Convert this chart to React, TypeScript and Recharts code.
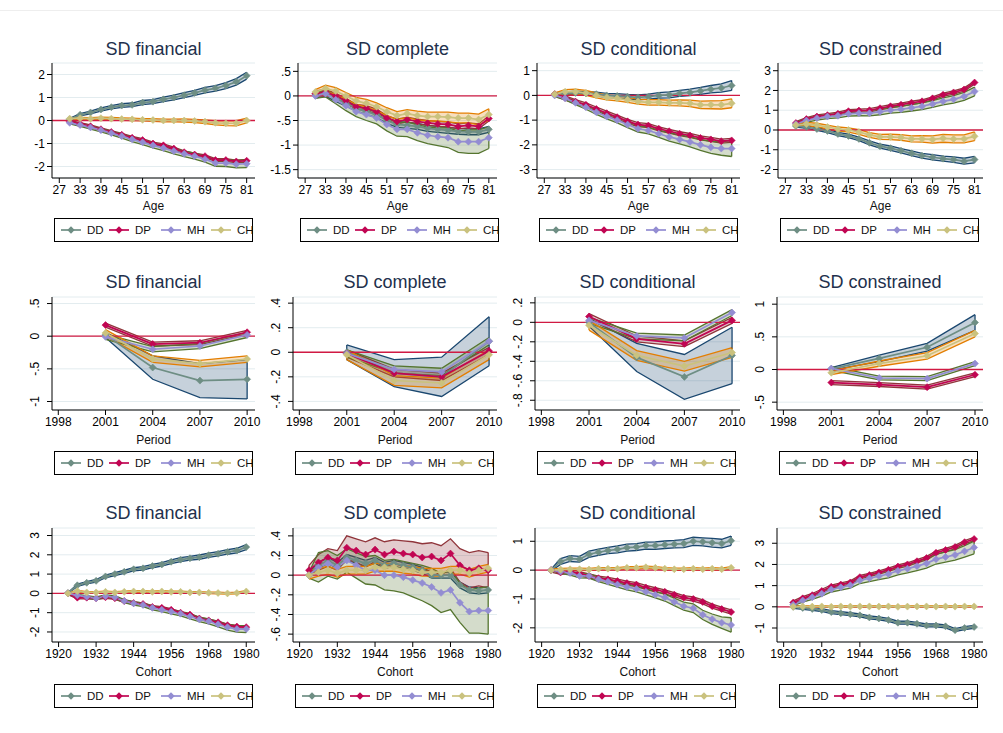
import React from "react";
import {
  ComposedChart,
  Line,
  Area,
  XAxis,
  YAxis,
  CartesianGrid,
  ReferenceLine,
} from "recharts";

// x positions of the estimates
const ages = [30, 33, 36, 39, 42, 45, 48, 51, 54, 57, 60, 63, 66, 69, 72, 75, 78, 81];
const ageTicks = [27, 33, 39, 45, 51, 57, 63, 69, 75, 81];
const periods = [2001, 2004, 2007, 2010];
const periodTicks = [1998, 2001, 2004, 2007, 2010];
const cohorts = [1923, 1926, 1929, 1932, 1935, 1938, 1941, 1944, 1947, 1950, 1953, 1956, 1959, 1962, 1965, 1968, 1971, 1974, 1977, 1980];
const cohortTicks = [1920, 1932, 1944, 1956, 1968, 1980];

const GROUPS = ["DD", "DP", "MH", "CH"] as const;
type Group = (typeof GROUPS)[number];

// ---- Age effects ----
const ageFinDD = [0.05, 0.25, 0.35, 0.48, 0.58, 0.65, 0.68, 0.78, 0.82, 0.92, 1.0, 1.1, 1.2, 1.32, 1.4, 1.52, 1.68, 1.95];
const ageFinDP = [-0.05, -0.15, -0.25, -0.38, -0.5, -0.62, -0.75, -0.85, -1.0, -1.08, -1.22, -1.38, -1.48, -1.55, -1.72, -1.72, -1.78, -1.75];
const ageFinMH = [-0.1, -0.2, -0.3, -0.42, -0.55, -0.68, -0.82, -0.95, -1.08, -1.2, -1.33, -1.45, -1.55, -1.68, -1.85, -1.85, -1.9, -1.88];
const ageFinCH = [0.08, 0.1, 0.08, 0.1, 0.08, 0.06, 0.05, 0.03, 0.02, 0.0, 0.0, 0.0, -0.02, -0.05, -0.1, -0.12, -0.12, 0.0];
const ageFinDDci = [0.04, 0.05, 0.06, 0.07, 0.07, 0.08, 0.08, 0.09, 0.09, 0.1, 0.1, 0.11, 0.11, 0.12, 0.12, 0.13, 0.14, 0.15];
const ageFinDPci = 0.06;
const ageFinMHci = [0.05, 0.06, 0.07, 0.08, 0.08, 0.09, 0.1, 0.1, 0.11, 0.11, 0.12, 0.12, 0.13, 0.13, 0.14, 0.15, 0.16, 0.17];
const ageFinCHci = [0.04, 0.04, 0.04, 0.05, 0.05, 0.05, 0.05, 0.05, 0.06, 0.06, 0.06, 0.07, 0.07, 0.08, 0.09, 0.1, 0.11, 0.1];

const ageComDD = [0.02, 0.05, -0.05, -0.15, -0.25, -0.32, -0.38, -0.5, -0.58, -0.6, -0.62, -0.66, -0.68, -0.7, -0.72, -0.73, -0.73, -0.68];
const ageComDP = [0.05, 0.08, 0.0, -0.1, -0.22, -0.25, -0.32, -0.45, -0.52, -0.48, -0.52, -0.55, -0.57, -0.58, -0.62, -0.6, -0.62, -0.46];
const ageComMH = [0.0, 0.05, -0.08, -0.2, -0.32, -0.38, -0.45, -0.58, -0.68, -0.68, -0.75, -0.8, -0.83, -0.85, -0.93, -0.93, -0.93, -0.85];
const ageComCH = [0.08, 0.15, 0.1, 0.0, -0.1, -0.15, -0.22, -0.32, -0.4, -0.36, -0.4, -0.42, -0.42, -0.43, -0.45, -0.45, -0.48, -0.38];
const ageComDDci = 0.06;
const ageComDPci = 0.05;
const ageComMHci = [0.05, 0.07, 0.08, 0.1, 0.1, 0.12, 0.12, 0.13, 0.14, 0.15, 0.16, 0.17, 0.18, 0.2, 0.22, 0.24, 0.24, 0.22];
const ageComCHci = [0.05, 0.07, 0.07, 0.07, 0.07, 0.08, 0.08, 0.08, 0.08, 0.08, 0.09, 0.09, 0.09, 0.1, 0.1, 0.1, 0.11, 0.12];

const ageConDD = [0.05, 0.08, 0.1, 0.08, 0.05, 0.0, -0.02, -0.05, -0.08, -0.05, 0.0, 0.02, 0.08, 0.12, 0.18, 0.25, 0.3, 0.4];
const ageConDP = [0.05, -0.1, -0.25, -0.38, -0.55, -0.72, -0.88, -1.05, -1.18, -1.22, -1.35, -1.45, -1.55, -1.62, -1.72, -1.78, -1.85, -1.82];
const ageConMH = [0.0, -0.12, -0.3, -0.48, -0.68, -0.85, -1.0, -1.18, -1.35, -1.42, -1.55, -1.68, -1.78, -1.88, -2.0, -2.1, -2.15, -2.15];
const ageConCH = [0.05, 0.15, 0.15, 0.1, 0.0, -0.08, -0.12, -0.18, -0.25, -0.28, -0.28, -0.3, -0.3, -0.32, -0.38, -0.38, -0.38, -0.32];
const ageConDDci = [0.05, 0.06, 0.07, 0.07, 0.08, 0.08, 0.09, 0.09, 0.1, 0.1, 0.11, 0.12, 0.12, 0.13, 0.14, 0.15, 0.17, 0.2];
const ageConDPci = 0.08;
const ageConMHci = [0.05, 0.06, 0.07, 0.08, 0.09, 0.1, 0.11, 0.12, 0.13, 0.14, 0.15, 0.17, 0.18, 0.2, 0.22, 0.24, 0.27, 0.32];
const ageConCHci = [0.05, 0.08, 0.1, 0.1, 0.1, 0.1, 0.1, 0.1, 0.1, 0.11, 0.11, 0.11, 0.12, 0.13, 0.15, 0.16, 0.17, 0.18];

const ageCstDD = [0.2, 0.15, 0.05, -0.05, -0.2, -0.3, -0.45, -0.65, -0.82, -0.92, -1.05, -1.18, -1.3, -1.38, -1.45, -1.5, -1.58, -1.5];
const ageCstDP = [0.35, 0.55, 0.68, 0.75, 0.82, 0.95, 0.98, 1.0, 1.1, 1.2, 1.28, 1.38, 1.45, 1.6, 1.78, 1.9, 2.05, 2.4];
const ageCstMH = [0.3, 0.48, 0.6, 0.68, 0.72, 0.82, 0.85, 0.85, 0.92, 1.0, 1.05, 1.12, 1.2, 1.32, 1.45, 1.55, 1.7, 1.95];
const ageCstCH = [0.25, 0.3, 0.25, 0.15, 0.05, 0.0, -0.1, -0.25, -0.35, -0.35, -0.38, -0.45, -0.45, -0.48, -0.42, -0.45, -0.45, -0.32];
const ageCstDDci = [0.06, 0.07, 0.07, 0.08, 0.08, 0.09, 0.09, 0.1, 0.1, 0.11, 0.11, 0.12, 0.12, 0.13, 0.13, 0.14, 0.15, 0.16];
const ageCstDPci = 0.08;
const ageCstMHci = [0.08, 0.09, 0.1, 0.1, 0.11, 0.12, 0.13, 0.14, 0.15, 0.15, 0.16, 0.16, 0.17, 0.17, 0.18, 0.19, 0.2, 0.22];
const ageCstCHci = [0.06, 0.08, 0.09, 0.1, 0.1, 0.11, 0.12, 0.12, 0.13, 0.14, 0.14, 0.15, 0.16, 0.18, 0.2, 0.2, 0.2, 0.22];

// ---- Period effects ----
const perFinDD = [0.02, -0.48, -0.68, -0.66];
const perFinDP = [0.17, -0.12, -0.1, 0.06];
const perFinMH = [-0.01, -0.2, -0.15, 0.02];
const perFinCH = [0.05, -0.35, -0.42, -0.35];
const perFinDDci = [0.04, 0.18, 0.26, 0.3];
const perFinDPci = 0.03;
const perFinMHci = 0.04;
const perFinCHci = 0.05;

const perComDD = [0.0, -0.17, -0.2, 0.09];
const perComDP = [-0.01, -0.17, -0.2, 0.01];
const perComMH = [-0.01, -0.14, -0.16, 0.09];
const perComCH = [-0.02, -0.23, -0.25, -0.02];
const perComDDci = [0.06, 0.11, 0.16, 0.2];
const perComDPci = 0.03;
const perComMHci = 0.03;
const perComCHci = 0.04;

const perConDD = [0.0, -0.36, -0.56, -0.34];
const perConDP = [0.06, -0.17, -0.22, 0.02];
const perConMH = [0.02, -0.14, -0.16, 0.1];
const perConCH = [-0.03, -0.34, -0.45, -0.31];
const perConDDci = [0.04, 0.145, 0.23, 0.29];
const perConDPci = 0.03;
const perConMHci = 0.03;
const perConCHci = 0.05;

const perCstDD = [0.01, 0.17, 0.34, 0.72];
const perCstDP = [-0.2, -0.23, -0.27, -0.08];
const perCstMH = [0.015, -0.13, -0.14, 0.09];
const perCstCH = [-0.05, 0.09, 0.21, 0.55];
const perCstDDci = [0.02, 0.05, 0.06, 0.12];
const perCstDPci = 0.03;
const perCstMHci = 0.03;
const perCstCHci = [0.03, 0.04, 0.05, 0.05];

// ---- Cohort effects ----
const cohFinDD = [0.02, 0.42, 0.55, 0.65, 0.88, 1.0, 1.12, 1.25, 1.3, 1.42, 1.5, 1.64, 1.75, 1.82, 1.88, 1.98, 2.05, 2.15, 2.22, 2.4];
const cohFinDP = [0.0, -0.22, -0.22, -0.25, -0.2, -0.25, -0.4, -0.5, -0.55, -0.7, -0.75, -0.85, -1.0, -1.1, -1.3, -1.4, -1.5, -1.65, -1.72, -1.75];
const cohFinMH = [0.0, -0.1, -0.18, -0.25, -0.15, -0.2, -0.4, -0.52, -0.6, -0.75, -0.85, -0.95, -1.05, -1.2, -1.35, -1.45, -1.6, -1.75, -1.85, -1.85];
const cohFinCH = [0.0, 0.12, 0.05, 0.05, 0.08, 0.05, 0.08, 0.1, 0.1, 0.08, 0.1, 0.08, 0.08, 0.05, 0.05, 0.03, 0.02, 0.0, 0.02, 0.1];
const cohFinDDci = [0.02, 0.06, 0.06, 0.07, 0.07, 0.08, 0.08, 0.08, 0.09, 0.09, 0.09, 0.1, 0.1, 0.1, 0.11, 0.11, 0.11, 0.12, 0.12, 0.13];
const cohFinDPci = 0.06;
const cohFinMHci = [0.02, 0.05, 0.06, 0.07, 0.07, 0.08, 0.08, 0.09, 0.09, 0.1, 0.1, 0.11, 0.11, 0.12, 0.12, 0.13, 0.14, 0.15, 0.16, 0.18];
const cohFinCHci = 0.04;

const cohComDD = [0.0, 0.1, 0.15, 0.1, 0.18, 0.15, 0.12, 0.15, 0.1, 0.12, 0.1, 0.08, 0.05, 0.0, 0.0, 0.0, -0.1, -0.15, -0.16, -0.15];
const cohComDP = [0.05, 0.13, 0.18, 0.15, 0.28, 0.25, 0.21, 0.26, 0.21, 0.24, 0.22, 0.21, 0.18, 0.19, 0.15, 0.22, 0.1, 0.05, 0.07, 0.05];
const cohComMH = [0.0, 0.08, 0.12, 0.08, 0.15, 0.1, 0.05, 0.05, 0.0, 0.0, -0.02, -0.05, -0.08, -0.12, -0.18, -0.15, -0.28, -0.37, -0.36, -0.36];
const cohComCH = [0.0, 0.03, 0.05, 0.02, 0.05, 0.05, 0.05, 0.08, 0.08, 0.08, 0.06, 0.05, 0.03, 0.03, 0.03, 0.05, 0.05, 0.02, 0.05, 0.07];
const cohComDDci = 0.03;
const cohComDPci = [0.05, 0.08, 0.09, 0.1, 0.12, 0.12, 0.13, 0.12, 0.13, 0.12, 0.13, 0.13, 0.14, 0.14, 0.15, 0.15, 0.17, 0.18, 0.18, 0.18];
const cohComMHci = [0.03, 0.15, 0.13, 0.12, 0.12, 0.13, 0.14, 0.15, 0.15, 0.16, 0.16, 0.17, 0.18, 0.19, 0.2, 0.2, 0.2, 0.22, 0.23, 0.24];
const cohComCHci = 0.04;

const cohConDD = [0.0, 0.3, 0.4, 0.38, 0.55, 0.62, 0.68, 0.72, 0.78, 0.8, 0.85, 0.85, 0.88, 0.9, 0.92, 1.0, 0.98, 0.95, 0.92, 1.02];
const cohConDP = [0.0, -0.08, -0.05, -0.12, -0.2, -0.28, -0.32, -0.38, -0.45, -0.5, -0.6, -0.68, -0.75, -0.85, -0.95, -1.0, -1.1, -1.25, -1.35, -1.45];
const cohConMH = [0.0, -0.05, -0.1, -0.2, -0.2, -0.32, -0.4, -0.5, -0.58, -0.65, -0.75, -0.85, -0.95, -1.1, -1.25, -1.32, -1.55, -1.7, -1.82, -1.9];
const cohConCH = [0.0, 0.02, 0.03, 0.03, 0.02, 0.05, 0.05, 0.05, 0.08, 0.08, 0.1, 0.08, 0.05, 0.03, 0.03, 0.05, 0.03, 0.05, 0.03, 0.08];
const cohConDDci = [0.03, 0.1, 0.1, 0.1, 0.11, 0.11, 0.11, 0.12, 0.12, 0.12, 0.12, 0.13, 0.13, 0.13, 0.14, 0.14, 0.14, 0.15, 0.15, 0.16];
const cohConDPci = 0.07;
const cohConMHci = [0.02, 0.06, 0.07, 0.07, 0.08, 0.08, 0.09, 0.09, 0.1, 0.1, 0.11, 0.11, 0.12, 0.13, 0.14, 0.15, 0.16, 0.18, 0.2, 0.25];
const cohConCHci = 0.04;

const cohCstDD = [0.0, -0.05, -0.1, -0.15, -0.25, -0.3, -0.35, -0.4, -0.5, -0.55, -0.62, -0.75, -0.75, -0.8, -0.88, -0.88, -0.92, -1.1, -1.0, -0.95];
const cohCstDP = [0.2, 0.4, 0.55, 0.75, 0.95, 1.05, 1.15, 1.4, 1.5, 1.62, 1.75, 1.9, 2.0, 2.15, 2.3, 2.55, 2.68, 2.82, 3.05, 3.2];
const cohCstMH = [0.1, 0.3, 0.45, 0.62, 0.82, 0.92, 1.02, 1.25, 1.35, 1.45, 1.55, 1.7, 1.8, 1.92, 2.05, 2.25, 2.35, 2.45, 2.62, 2.8];
const cohCstCH = [0.0, 0.02, 0.01, 0.02, 0.0, 0.02, 0.01, 0.02, 0.02, 0.01, 0.02, 0.0, 0.01, 0.02, 0.02, 0.01, 0.02, 0.01, 0.02, 0.02];
const cohCstDDci = 0.07;
const cohCstDPci = 0.08;
const cohCstMHci = [0.05, 0.08, 0.1, 0.11, 0.12, 0.13, 0.14, 0.15, 0.16, 0.17, 0.18, 0.19, 0.2, 0.21, 0.22, 0.23, 0.24, 0.25, 0.27, 0.3];
const cohCstCHci = 0.03;

// Stata s2color: markers use p5-p8, the CI areas p1-p4
const lineColor: Record<Group, string> = { DD: "#6e8e84", DP: "#c10552", MH: "#938dd2", CH: "#cac27e" };
const bandColor: Record<Group, string> = { DD: "#1a476f", DP: "#90353b", MH: "#55752f", CH: "#e37e00" };

const FONT = "'Liberation Sans', Arial, Helvetica, sans-serif";
const TICK_FONT = 12;

type CI = number | number[];
type Panel = {
  title: string;
  xLabel: string;
  xs: number[];
  xTicks: number[];
  xDomain: [number, number];
  yTicks: number[];
  yDomain: [number, number];
  rotateY: boolean;
  series: Record<Group, number[]>;
  ci: Record<Group, CI>;
  left: number;
  right: number;
  row: number;
};

const rowLayout = [
  { top: 63, bottom: 178, titleY: 49, legendTop: 218, xLabelY: 204 },
  { top: 297, bottom: 410, titleY: 282, legendTop: 451, xLabelY: 438 },
  { top: 528, bottom: 642, titleY: 513, legendTop: 684, xLabelY: 670 },
];
const colsTop = [[52, 255], [298, 497], [537, 740], [778, 983]];
const colsLow = [[52, 255], [293, 497], [535, 740], [777, 983]];

const ageAxis = { xLabel: "Age", xs: ages, xTicks: ageTicks, xDomain: [24.9, 83.4] as [number, number], rotateY: false, row: 0 };
const perAxis = { xLabel: "Period", xs: periods, xTicks: periodTicks, xDomain: [1997.6, 2010.5] as [number, number], rotateY: true, row: 1 };
const cohAxis = { xLabel: "Cohort", xs: cohorts, xTicks: cohortTicks, xDomain: [1917.9, 1982.8] as [number, number], rotateY: true, row: 2 };

const panels: Panel[] = [
  { ...ageAxis, title: "SD financial", yTicks: [-2, -1, 0, 1, 2], yDomain: [-2.5, 2.5], left: colsTop[0][0], right: colsTop[0][1],
    series: { DD: ageFinDD, DP: ageFinDP, MH: ageFinMH, CH: ageFinCH }, ci: { DD: ageFinDDci, DP: ageFinDPci, MH: ageFinMHci, CH: ageFinCHci } },
  { ...ageAxis, title: "SD complete", yTicks: [-1.5, -1, -0.5, 0, 0.5], yDomain: [-1.67, 0.67], left: colsTop[1][0], right: colsTop[1][1],
    series: { DD: ageComDD, DP: ageComDP, MH: ageComMH, CH: ageComCH }, ci: { DD: ageComDDci, DP: ageComDPci, MH: ageComMHci, CH: ageComCHci } },
  { ...ageAxis, title: "SD conditional", yTicks: [-3, -2, -1, 0, 1], yDomain: [-3.34, 1.31], left: colsTop[2][0], right: colsTop[2][1],
    series: { DD: ageConDD, DP: ageConDP, MH: ageConMH, CH: ageConCH }, ci: { DD: ageConDDci, DP: ageConDPci, MH: ageConMHci, CH: ageConCHci } },
  { ...ageAxis, title: "SD constrained", yTicks: [-2, -1, 0, 1, 2, 3], yDomain: [-2.43, 3.39], left: colsTop[3][0], right: colsTop[3][1],
    series: { DD: ageCstDD, DP: ageCstDP, MH: ageCstMH, CH: ageCstCH }, ci: { DD: ageCstDDci, DP: ageCstDPci, MH: ageCstMHci, CH: ageCstCHci } },

  { ...perAxis, title: "SD financial", yTicks: [-1, -0.5, 0, 0.5], yDomain: [-1.13, 0.6], left: colsLow[0][0], right: colsLow[0][1],
    series: { DD: perFinDD, DP: perFinDP, MH: perFinMH, CH: perFinCH }, ci: { DD: perFinDDci, DP: perFinDPci, MH: perFinMHci, CH: perFinCHci } },
  { ...perAxis, title: "SD complete", yTicks: [-0.4, -0.2, 0, 0.2, 0.4], yDomain: [-0.47, 0.45], left: colsLow[1][0], right: colsLow[1][1],
    series: { DD: perComDD, DP: perComDP, MH: perComMH, CH: perComCH }, ci: { DD: perComDDci, DP: perComDPci, MH: perComMHci, CH: perComCHci } },
  { ...perAxis, title: "SD conditional", yTicks: [-0.8, -0.6, -0.4, -0.2, 0, 0.2], yDomain: [-0.9, 0.26], left: colsLow[2][0], right: colsLow[2][1],
    series: { DD: perConDD, DP: perConDP, MH: perConMH, CH: perConCH }, ci: { DD: perConDDci, DP: perConDPci, MH: perConMHci, CH: perConCHci } },
  { ...perAxis, title: "SD constrained", yTicks: [-0.5, 0, 0.5, 1], yDomain: [-0.62, 1.11], left: colsLow[3][0], right: colsLow[3][1],
    series: { DD: perCstDD, DP: perCstDP, MH: perCstMH, CH: perCstCH }, ci: { DD: perCstDDci, DP: perCstDPci, MH: perCstMHci, CH: perCstCHci } },

  { ...cohAxis, title: "SD financial", yTicks: [-2, -1, 0, 1, 2, 3], yDomain: [-2.52, 3.39], left: colsLow[0][0], right: colsLow[0][1],
    series: { DD: cohFinDD, DP: cohFinDP, MH: cohFinMH, CH: cohFinCH }, ci: { DD: cohFinDDci, DP: cohFinDPci, MH: cohFinMHci, CH: cohFinCHci } },
  { ...cohAxis, title: "SD complete", yTicks: [-0.6, -0.4, -0.2, 0, 0.2, 0.4], yDomain: [-0.68, 0.48], left: colsLow[1][0], right: colsLow[1][1],
    series: { DD: cohComDD, DP: cohComDP, MH: cohComMH, CH: cohComCH }, ci: { DD: cohComDDci, DP: cohComDPci, MH: cohComMHci, CH: cohComCHci } },
  { ...cohAxis, title: "SD conditional", yTicks: [-2, -1, 0, 1], yDomain: [-2.49, 1.46], left: colsLow[2][0], right: colsLow[2][1],
    series: { DD: cohConDD, DP: cohConDP, MH: cohConMH, CH: cohConCH }, ci: { DD: cohConDDci, DP: cohConDPci, MH: cohConMHci, CH: cohConCHci } },
  { ...cohAxis, title: "SD constrained", yTicks: [-1, 0, 1, 2, 3], yDomain: [-1.66, 3.72], left: colsLow[3][0], right: colsLow[3][1],
    series: { DD: cohCstDD, DP: cohCstDP, MH: cohCstMH, CH: cohCstCH }, ci: { DD: cohCstDDci, DP: cohCstDPci, MH: cohCstMHci, CH: cohCstCHci } },
];

const ciAt = (c: CI, i: number) => (Array.isArray(c) ? c[i] : c);

function buildRows(p: Panel) {
  return p.xs.map((x, i) => {
    const row: Record<string, number | number[]> = { x };
    GROUPS.forEach((g) => {
      const v = p.series[g][i];
      const w = ciAt(p.ci[g], i);
      row[g] = v;
      row[g + "Band"] = [v - w, v + w];
    });
    return row;
  });
}

// Stata drops the leading zero: .5, -.5
const fmt = (v: number) => String(v).replace(/^(-?)0\./, "$1.");

const diamond = (color: string, r: number) => (props: any) => {
  const { cx, cy, index } = props;
  if (cx == null || cy == null) return <g key={index} />;
  return (
    <path
      key={index}
      d={`M${cx},${cy - r}L${cx + r},${cy}L${cx},${cy + r}L${cx - r},${cy}Z`}
      fill={color}
      stroke={color}
      strokeWidth={0.6}
    />
  );
};

const RotatedTick = (props: any) => {
  const { x, y, payload } = props;
  const cx = x - 10;
  return (
    <text
      x={cx}
      y={y}
      transform={`rotate(-90 ${cx} ${y})`}
      textAnchor="middle"
      dominantBaseline="central"
      fontSize={TICK_FONT}
      fontFamily={FONT}
      fill="#000"
    >
      {fmt(payload.value)}
    </text>
  );
};

const Y_W = 48;
const PAD_T = 4;
const PAD_R = 6;
const X_H = 40;

function Legend({ left, top }: { left: number; top: number }) {
  const offs = [6, 54, 106, 156];
  return (
    <div
      style={{
        position: "absolute",
        left,
        top,
        width: 197,
        height: 22,
        border: "1.5px solid #000",
      }}
    >
      <svg width={197} height={22} style={{ position: "absolute", left: 0, top: 0, overflow: "visible" }}>
        {GROUPS.map((g, i) => {
          const x0 = offs[i];
          return (
            <g key={g}>
              <line x1={x0} x2={x0 + 20} y1={11} y2={11} stroke={lineColor[g]} strokeWidth={1.7} />
              <path d={`M${x0 + 10},${7.3}L${x0 + 13.7},11L${x0 + 10},${14.7}L${x0 + 6.3},11Z`} fill={lineColor[g]} />
              <text x={x0 + 26} y={15} fontSize={11.5} fontFamily={FONT} fill="#111">
                {g}
              </text>
            </g>
          );
        })}
      </svg>
    </div>
  );
}

function PanelChart({ p }: { p: Panel }) {
  const lay = rowLayout[p.row];
  const plotW = p.right - p.left;
  const plotH = lay.bottom - lay.top;
  const rows = buildRows(p);
  const labelOffset = X_H - (lay.xLabelY - lay.bottom) - 6;
  const first = rows[0];
  const last = rows[rows.length - 1];
  return (
    <>
      <div
        style={{
          position: "absolute",
          left: p.left,
          width: plotW,
          top: lay.titleY - 11,
          textAlign: "center",
          fontFamily: FONT,
          fontSize: 18,
          color: "#22304c",
          lineHeight: "22px",
          whiteSpace: "nowrap",
        }}
      >
        {p.title}
      </div>
      <div style={{ position: "absolute", left: p.left - Y_W, top: lay.top - PAD_T }}>
        <ComposedChart
          width={plotW + Y_W + PAD_R}
          height={plotH + PAD_T + X_H}
          data={rows}
          margin={{ top: PAD_T, right: PAD_R, left: 0, bottom: 0 }}
        >
          <CartesianGrid vertical={false} stroke="#e3ecef" strokeWidth={1} />
          <XAxis
            type="number"
            dataKey="x"
            domain={p.xDomain}
            ticks={p.xTicks}
            interval={0}
            allowDataOverflow
            height={X_H}
            tickSize={5}
            tickMargin={2}
            stroke="#000"
            tick={{ fontSize: TICK_FONT, fill: "#000", fontFamily: FONT }}
            label={{ value: p.xLabel, position: "insideBottom", offset: labelOffset, fontSize: 12, fill: "#111", fontFamily: FONT }}
          />
          <YAxis
            type="number"
            domain={p.yDomain}
            ticks={p.yTicks}
            interval={0}
            allowDataOverflow
            width={Y_W}
            tickSize={5}
            tickMargin={2}
            stroke="#000"
            tickFormatter={fmt}
            tick={p.rotateY ? <RotatedTick /> : { fontSize: TICK_FONT, fill: "#000", fontFamily: FONT }}
          />
          <ReferenceLine y={0} stroke="#d11a43" strokeWidth={1.3} />
          {GROUPS.map((g) => (
            <Area
              key={g + "Band"}
              dataKey={g + "Band"}
              type="linear"
              stroke={bandColor[g]}
              strokeWidth={1.3}
              fill={bandColor[g]}
              fillOpacity={0.25}
              dot={false}
              activeDot={false}
              isAnimationActive={false}
            />
          ))}
          {/* closing edges of each confidence band */}
          {GROUPS.flatMap((g) =>
            [first, last].map((r, k) => {
              const [lo, hi] = r[g + "Band"] as number[];
              return (
                <ReferenceLine
                  key={g + "edge" + k}
                  segment={[
                    { x: r.x as number, y: lo },
                    { x: r.x as number, y: hi },
                  ]}
                  stroke={bandColor[g]}
                  strokeWidth={1.3}
                />
              );
            })
          )}
          {GROUPS.map((g) => (
            <Line
              key={g}
              dataKey={g}
              type="linear"
              stroke={lineColor[g]}
              strokeWidth={1.7}
              dot={diamond(lineColor[g], 3.5)}
              activeDot={false}
              isAnimationActive={false}
            />
          ))}
        </ComposedChart>
      </div>
      <Legend left={p.left + 2} top={lay.legendTop} />
    </>
  );
}

export default function App() {
  return (
    <div
      style={{
        position: "absolute",
        left: 0,
        top: 0,
        width: 1003,
        height: 733,
        background: "#fff",
        overflow: "hidden",
      }}
    >
      <div style={{ position: "absolute", left: 0, top: 10, width: 1003, height: 1, background: "#eeeeee" }} />
      {panels.map((p, i) => (
        <PanelChart key={i} p={p} />
      ))}
    </div>
  );
}
